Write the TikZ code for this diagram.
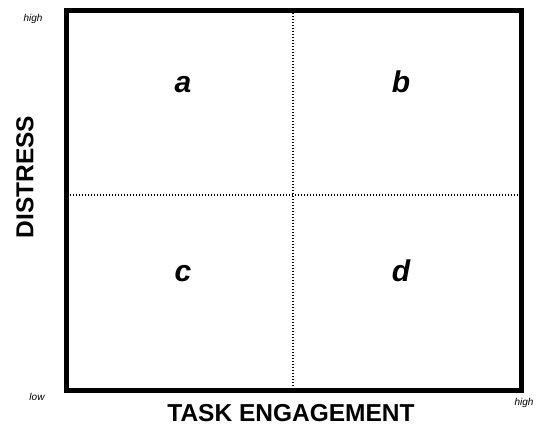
\documentclass[tikz,border=0pt]{standalone}
\usepackage{fontspec}
\setmainfont{Liberation Sans}
\begin{document}
\begin{tikzpicture}[x=1pt,y=-1pt,
  frame/.style={draw=black,line width=5pt},
  divider/.style={draw=black,line width=1.2pt,dash pattern=on 1.4pt off 1.6pt},
  quad/.style={font=\fontsize{30}{30}\selectfont\bfseries\itshape,anchor=base,inner sep=0pt},
  axis/.style={font=\fontsize{24.5}{24.5}\selectfont\bfseries,inner sep=0pt},
  tick/.style={font=\fontsize{10}{10}\selectfont\itshape,inner sep=0pt}]
\useasboundingbox (0,0) rectangle (540,426);
\coordinate (tl) at (66.5,10);
\coordinate (br) at (521,390);
\coordinate (vt) at (293,10);
\coordinate (vb) at (293,390);
\coordinate (hl) at (66.5,195);
\coordinate (hr) at (521,195);
\draw[divider] (vt) -- (vb);
\draw[divider] (hl) -- (hr);
\draw[frame] (tl) rectangle (br);
\node[quad] (a) at (183,92) {a};
\node[quad] (b) at (401,92) {b};
\node[quad] (c) at (183,281) {c};
\node[quad] (d) at (401,281) {d};
\node[axis,rotate=90] (dist) at (25,177) {DISTRESS};
\node[axis] (task) at (291,413) {TASK ENGAGEMENT};
\node[tick] (hi1) at (33,19) {high};
\node[tick] (lo) at (37,397) {low};
\node[tick] (hi2) at (524,403) {high};
\end{tikzpicture}
\end{document}
